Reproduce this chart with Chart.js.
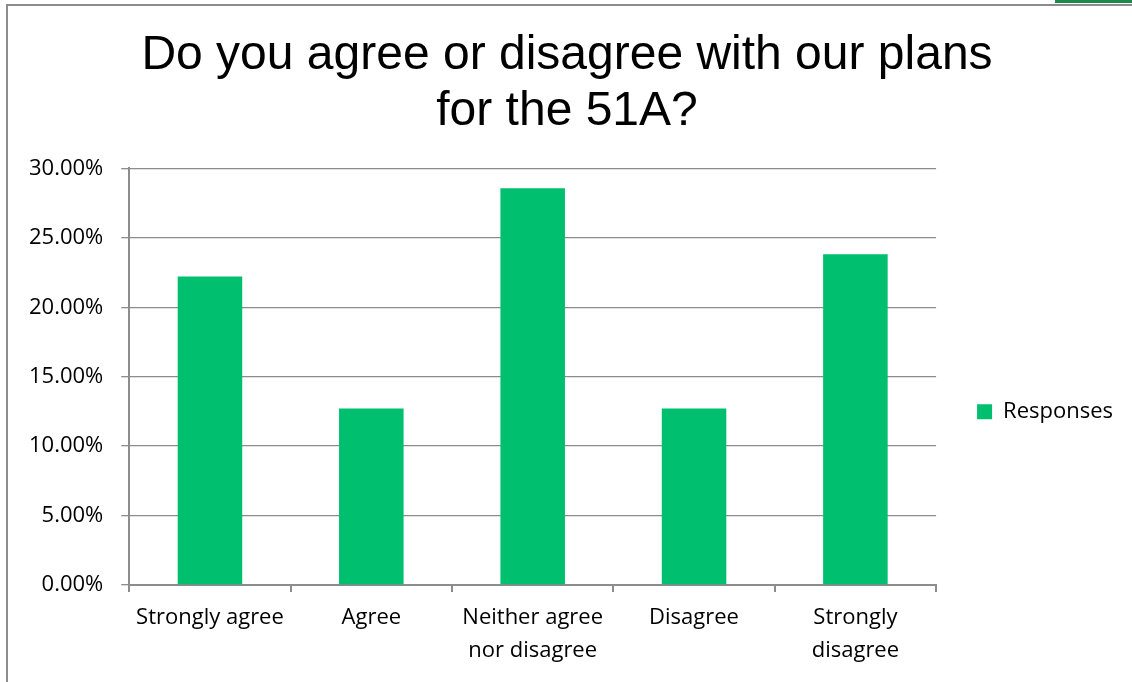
<!DOCTYPE html>
<html>
<head>
<meta charset="utf-8">
<script src="https://cdn.jsdelivr.net/npm/chart.js@4.4.1/dist/chart.umd.min.js"></script>
<style>
  html, body { margin: 0; padding: 0; background: #fff; overflow: hidden; }
  #frame {
    position: absolute; left: 6px; top: 4px; width: 1126px; height: 678px;
    border-left: 2px solid #8c8c8c; border-top: 2px solid #8c8c8c; box-sizing: border-box;
  }
  #tab { position: absolute; left: 1055px; top: 0; width: 77px; height: 3px; background: #1e8a4a; }
  #wrap { position: absolute; left: 8px; top: 0; width: 1124px; height: 682px; }
</style>
</head>
<body>
<div id="frame"></div>
<div id="tab"></div>
<div id="wrap"><canvas id="c" width="1124" height="682"></canvas></div>
<script>
// Survey answers to the 51A question
const categories = [
  'Strongly agree',
  'Agree',
  ['Neither agree', 'nor disagree'],
  'Disagree',
  ['Strongly', 'disagree']
];
const responses = [22.22, 12.70, 28.57, 12.70, 23.81];
const seriesName = 'Responses';
const titleLines = ['Do you agree or disagree with our plans', 'for the 51A?'];

const labelFont = "'Open Sans', 'Noto Sans', sans-serif";
const gridColor = '#8c8c8c';

new Chart(document.getElementById('c'), {
  type: 'bar',
  data: {
    labels: categories,
    datasets: [{
      label: seriesName,
      data: responses,
      backgroundColor: '#00bf6f',
      borderWidth: 0,
      categoryPercentage: 1.0,
      barPercentage: 0.4
    }]
  },
  options: {
    responsive: false,
    animation: false,
    devicePixelRatio: 1,
    layout: { padding: { left: 3, right: 9, top: 28, bottom: 6 } },
    plugins: {
      title: {
        display: true,
        text: titleLines,
        color: '#000',
        font: { family: "'Liberation Sans', Arial, sans-serif", size: 48, weight: 'normal', lineHeight: 1.16 },
        padding: { top: 0, bottom: 29 }
      },
      legend: {
        position: 'right',
        fullSize: false,
        // empty heading pushes the single entry a little below the plot's middle
        title: { display: true, text: '', font: { size: 10, lineHeight: 1.2 }, padding: { top: 0, bottom: 58 } },
        labels: {
          color: '#000',
          boxWidth: 15,
          boxHeight: 15,
          padding: 41,
          font: { family: labelFont, size: 22 }
        }
      },
      tooltip: { enabled: false }
    },
    scales: {
      x: {
        grid: { offset: true, drawOnChartArea: false, drawTicks: true, tickLength: 7, color: gridColor, lineWidth: 2 },
        border: { color: gridColor, width: 2 },
        ticks: { color: '#000', padding: 9, maxRotation: 0, font: { family: labelFont, size: 22, lineHeight: 1.5 } }
      },
      y: {
        min: 0,
        max: 30,
        grid: { color: gridColor, lineWidth: 1.3, tickLength: 8 },
        border: { color: gridColor, width: 2 },
        ticks: {
          stepSize: 5,
          color: '#000',
          padding: 18,
          font: { family: labelFont, size: 22 },
          callback: v => v.toFixed(2) + '%'
        }
      }
    }
  }
});
</script>
</body>
</html>
